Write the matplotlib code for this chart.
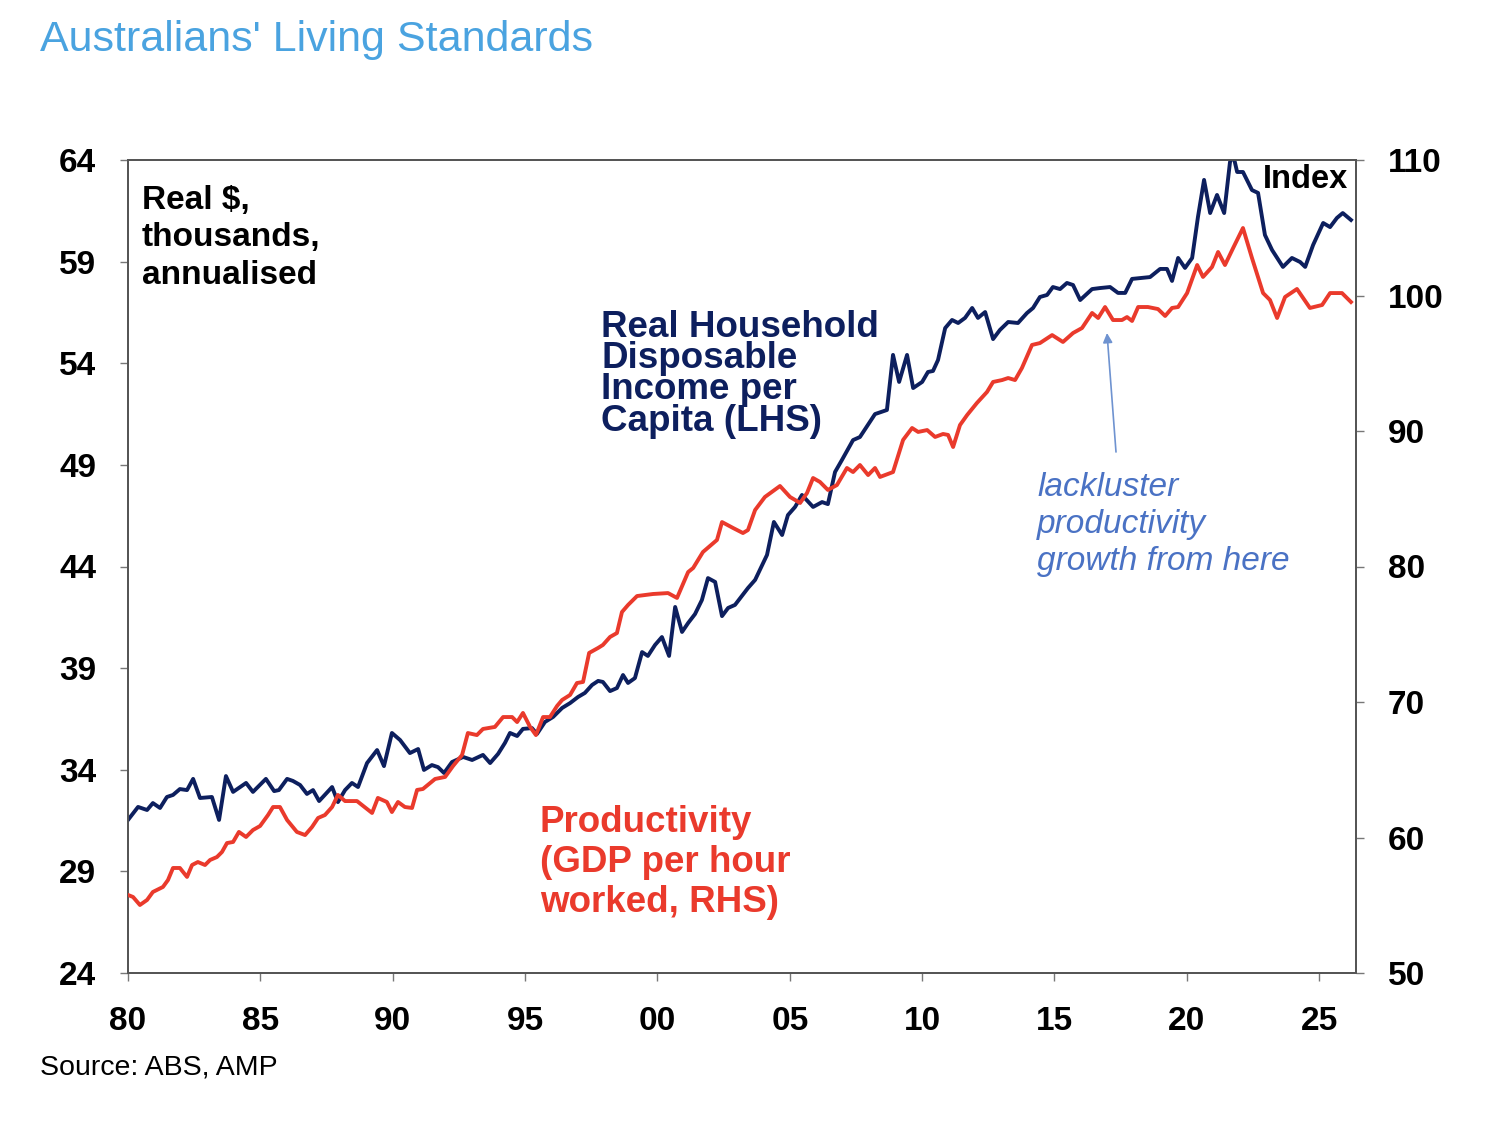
import matplotlib
matplotlib.use("Agg")
import matplotlib.pyplot as plt

# ---- Data ----
income_years = [1980.00, 1980.38, 1980.72, 1980.94, 1981.21, 1981.47, 1981.70, 1981.96, 1982.23, 1982.46,
                1982.72, 1983.17, 1983.44, 1983.70, 1983.97, 1984.46, 1984.72, 1985.21, 1985.52, 1985.70,
                1986.01, 1986.23, 1986.50, 1986.76, 1986.99, 1987.22, 1987.71, 1987.93, 1988.20, 1988.46,
                1988.69, 1989.03, 1989.41, 1989.67, 1989.97, 1990.28, 1990.65, 1990.96, 1991.18, 1991.48,
                1991.71, 1991.94, 1992.24, 1992.66, 1993.00, 1993.41, 1993.68, 1993.98, 1994.24, 1994.43,
                1994.70, 1994.92, 1995.26, 1995.45, 1995.75, 1996.06, 1996.40, 1996.70, 1997.00, 1997.26,
                1997.53, 1997.76, 1997.94, 1998.21, 1998.47, 1998.70, 1998.89, 1999.15, 1999.42, 1999.64,
                1999.91, 2000.17, 2000.44, 2000.67, 2000.93, 2001.16, 2001.42, 2001.68, 2001.91, 2002.18,
                2002.44, 2002.67, 2002.93, 2003.42, 2003.69, 2004.14, 2004.40, 2004.71, 2004.93, 2005.20,
                2005.46, 2005.88, 2006.22, 2006.44, 2006.71, 2006.97, 2007.39, 2007.65, 2008.22, 2008.67,
                2008.90, 2009.13, 2009.43, 2009.66, 2010.00, 2010.22, 2010.41, 2010.60, 2010.87, 2011.13,
                2011.36, 2011.62, 2011.89, 2012.11, 2012.38, 2012.68, 2012.94, 2013.25, 2013.62, 2013.96,
                2014.19, 2014.45, 2014.72, 2014.94, 2015.21, 2015.47, 2015.70, 2015.97, 2016.42, 2016.72,
                2017.10, 2017.40, 2017.67, 2017.93, 2018.23, 2018.61, 2018.99, 2019.25, 2019.44, 2019.67,
                2019.93, 2020.20, 2020.42, 2020.65, 2020.88, 2021.14, 2021.41, 2021.63, 2021.75, 2021.90,
                2022.12, 2022.46, 2022.69, 2022.95, 2023.22, 2023.63, 2023.97, 2024.28, 2024.47, 2024.77,
                2025.15, 2025.41, 2025.67, 2025.89, 2026.20]
income_values = [31.53, 32.17, 32.02, 32.36, 32.12, 32.66, 32.76, 33.05, 33.00, 33.55,
                 32.61, 32.66, 31.53, 33.69, 32.91, 33.35, 32.91, 33.55, 32.95, 33.00,
                 33.55, 33.45, 33.25, 32.81, 33.00, 32.46, 33.15, 32.41, 33.00, 33.35,
                 33.15, 34.33, 34.97, 34.18, 35.81, 35.46, 34.82, 35.02, 33.99, 34.23,
                 34.13, 33.84, 34.38, 34.63, 34.48, 34.73, 34.33, 34.78, 35.32, 35.81,
                 35.66, 36.01, 36.05, 35.76, 36.35, 36.60, 37.04, 37.28, 37.58, 37.78,
                 38.17, 38.37, 38.32, 37.87, 38.02, 38.66, 38.27, 38.51, 39.79, 39.60,
                 40.14, 40.53, 39.60, 42.01, 40.78, 41.22, 41.66, 42.35, 43.43, 43.24,
                 41.56, 41.96, 42.11, 42.94, 43.34, 44.57, 46.19, 45.55, 46.53, 46.93,
                 47.52, 46.93, 47.17, 47.07, 48.65, 49.24, 50.22, 50.37, 51.50, 51.70,
                 54.41, 53.08, 54.41, 52.78, 53.08, 53.57, 53.62, 54.16, 55.73, 56.13,
                 55.98, 56.23, 56.72, 56.23, 56.52, 55.19, 55.64, 56.03, 55.98, 56.47,
                 56.72, 57.26, 57.36, 57.75, 57.65, 57.95, 57.85, 57.11, 57.65, 57.70,
                 57.75, 57.46, 57.46, 58.15, 58.19, 58.24, 58.64, 58.64, 58.05, 59.18,
                 58.69, 59.18, 61.20, 63.02, 61.39, 62.28, 61.39, 63.90, 64.25, 63.41,
                 63.41, 62.52, 62.38, 60.31, 59.57, 58.74, 59.18, 58.98, 58.74, 59.82,
                 60.90, 60.70, 61.15, 61.39, 61.05]

prod_years = [1980.00, 1980.19, 1980.45, 1980.72, 1980.94, 1981.32, 1981.51, 1981.70, 1981.96, 1982.23,
              1982.42, 1982.64, 1982.91, 1983.10, 1983.36, 1983.55, 1983.74, 1983.97, 1984.19, 1984.46,
              1984.72, 1984.99, 1985.29, 1985.48, 1985.74, 1986.01, 1986.38, 1986.69, 1986.95, 1987.18,
              1987.44, 1987.71, 1987.93, 1988.20, 1988.65, 1989.22, 1989.44, 1989.78, 1989.97, 1990.20,
              1990.46, 1990.73, 1990.92, 1991.14, 1991.60, 1991.98, 1992.28, 1992.62, 1992.84, 1993.18,
              1993.41, 1993.86, 1994.17, 1994.51, 1994.70, 1994.92, 1995.19, 1995.41, 1995.68, 1995.94,
              1996.21, 1996.40, 1996.70, 1996.96, 1997.19, 1997.42, 1997.76, 1997.94, 1998.21, 1998.47,
              1998.66, 1998.89, 1999.23, 1999.83, 2000.40, 2000.74, 2001.16, 2001.35, 2001.72, 2002.25,
              2002.44, 2002.86, 2003.23, 2003.42, 2003.69, 2004.06, 2004.63, 2005.01, 2005.39, 2005.65,
              2005.88, 2006.14, 2006.44, 2006.78, 2007.16, 2007.39, 2007.65, 2007.96, 2008.22, 2008.41,
              2008.90, 2009.28, 2009.62, 2009.85, 2010.19, 2010.49, 2010.79, 2010.98, 2011.17, 2011.43,
              2011.70, 2012.07, 2012.45, 2012.68, 2013.02, 2013.25, 2013.51, 2013.77, 2014.15, 2014.45,
              2014.91, 2015.32, 2015.70, 2016.04, 2016.42, 2016.65, 2016.91, 2017.21, 2017.55, 2017.74,
              2017.93, 2018.16, 2018.53, 2018.91, 2019.18, 2019.44, 2019.67, 2020.01, 2020.39, 2020.61,
              2020.95, 2021.18, 2021.44, 2021.75, 2022.12, 2022.46, 2022.88, 2023.14, 2023.41, 2023.71,
              2024.16, 2024.65, 2025.11, 2025.41, 2025.86, 2026.20]
prod_values = [55.76, 55.61, 55.02, 55.39, 55.98, 56.35, 56.86, 57.75, 57.75, 57.09,
               57.97, 58.19, 57.97, 58.34, 58.56, 58.93, 59.59, 59.67, 60.41, 60.04,
               60.55, 60.85, 61.66, 62.25, 62.25, 61.29, 60.41, 60.18, 60.77, 61.44,
               61.66, 62.25, 63.14, 62.69, 62.69, 61.81, 62.92, 62.62, 61.88, 62.62,
               62.25, 62.18, 63.51, 63.58, 64.32, 64.47, 65.28, 66.09, 67.71, 67.56,
               68.01, 68.16, 68.89, 68.89, 68.52, 69.19, 68.16, 67.56, 68.89, 68.89,
               69.71, 70.15, 70.52, 71.40, 71.48, 73.62, 73.99, 74.21, 74.80, 75.09,
               76.64, 77.16, 77.82, 77.97, 78.04, 77.68, 79.59, 79.89, 81.07, 81.96,
               83.28, 82.84, 82.47, 82.69, 84.17, 85.13, 85.94, 85.13, 84.69, 85.42,
               86.53, 86.24, 85.65, 86.01, 87.27, 86.97, 87.49, 86.75, 87.27, 86.61,
               86.97, 89.34, 90.22, 89.93, 90.07, 89.56, 89.78, 89.71, 88.82, 90.44,
               91.18, 92.07, 92.88, 93.62, 93.76, 93.91, 93.76, 94.65, 96.35, 96.49,
               97.08, 96.57, 97.23, 97.60, 98.71, 98.34, 99.15, 98.19, 98.19, 98.41,
               98.12, 99.15, 99.15, 99.00, 98.49, 99.08, 99.15, 100.18, 102.25, 101.37,
               102.10, 103.21, 102.25, 103.51, 104.98, 102.77, 100.18, 99.67, 98.34, 99.89,
               100.48, 99.08, 99.30, 100.18, 100.18, 99.52]

x_ticks = [1980, 1985, 1990, 1995, 2000, 2005, 2010, 2015, 2020, 2025]
x_labels = ["80", "85", "90", "95", "00", "05", "10", "15", "20", "25"]
left_ticks = [24, 29, 34, 39, 44, 49, 54, 59, 64]
right_ticks = [50, 60, 70, 80, 90, 100, 110]

NAVY = "#0d1f5e"
RED = "#ea3a2c"
TITLE_BLUE = "#4aa3e0"
NOTE_BLUE = "#4a72c4"
ARROW_BLUE = "#6f93d0"
SPINE = "#555555"

W, H = 1510, 1132
plt.rcParams["font.family"] = ["Liberation Sans", "DejaVu Sans"]

fig = plt.figure(figsize=(W / 100, H / 100), dpi=100)
ax = fig.add_axes([128 / W, 1 - 973 / H, (1356 - 128) / W, (973 - 160) / H])
ax2 = ax.twinx()


def fx(px):
    return px / W


def fy(py):
    return 1 - py / H


ax.plot(income_years, income_values, color=NAVY, lw=2.8, zorder=3, solid_joinstyle="round")
ax2.plot(prod_years, prod_values, color=RED, lw=2.8, zorder=3, solid_joinstyle="round")

ax.set_xlim(1980, 2026.39)
ax.set_ylim(24, 64)
ax2.set_ylim(50, 110)

ax.set_xticks(x_ticks)
ax.set_xticklabels(x_labels)
ax.set_yticks(left_ticks)
ax2.set_yticks(right_ticks)

for a in (ax, ax2):
    for s in a.spines.values():
        s.set_color(SPINE)
        s.set_linewidth(1.3)
    a.tick_params(axis="both", which="both", direction="out", length=6, width=1.0,
                  color="#777777", labelsize=24, pad=17)
    for lab in a.get_xticklabels() + a.get_yticklabels():
        lab.set_fontweight("bold")
ax.tick_params(axis="x", pad=18)

# Text annotations
fig.text(fx(142), fy(185), "Real $,\nthousands,\nannualised", fontsize=24, fontweight="bold",
         color="black", va="top", ha="left", linespacing=1.27)
fig.text(fx(1348), fy(180), "Index", fontsize=23.5, fontweight="bold", color="black",
         va="center", ha="right")
fig.text(fx(601), fy(310), "Real Household\nDisposable\nIncome per\nCapita (LHS)", fontsize=26.5,
         fontweight="bold", color=NAVY, va="top", ha="left", linespacing=0.86)
fig.text(fx(540), fy(805), "Productivity\n(GDP per hour\nworked, RHS)", fontsize=26.5,
         fontweight="bold", color=RED, va="top", ha="left", linespacing=1.18)
fig.text(fx(1037), fy(472), "lackluster\nproductivity\ngrowth from here", fontsize=24,
         style="italic", color=NOTE_BLUE, va="top", ha="left", linespacing=1.26)

fig.add_artist(matplotlib.patches.FancyArrowPatch(
    (fx(1116), fy(452)), (fx(1107), fy(333)), transform=fig.transFigure,
    arrowstyle="-|>", color=ARROW_BLUE, lw=1.2, mutation_scale=14, shrinkA=0, shrinkB=0))

fig.text(fx(40), fy(40), "Australians' Living Standards", fontsize=31,
         color=TITLE_BLUE, va="center", ha="left")
fig.text(fx(40), fy(1068), "Source: ABS, AMP", fontsize=20.5,
         color="black", va="center", ha="left")

fig.savefig("out.png", dpi=100, facecolor="white")
